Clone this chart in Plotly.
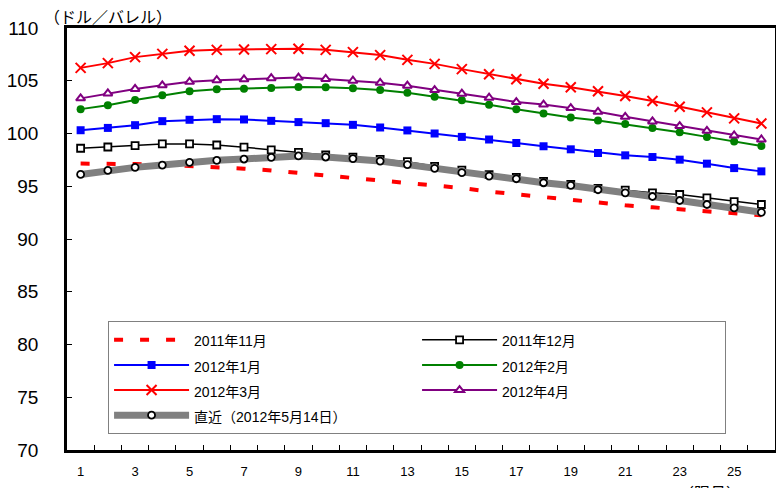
import plotly.graph_objects as go

months = list(range(1, 27))

nov2011 = [97.15, 97.15, 97.1, 97.05, 96.95, 96.82, 96.67, 96.5, 96.27, 96.0, 95.78, 95.59, 95.38,
           95.12, 94.83, 94.5, 94.24, 93.9, 93.63, 93.4, 93.2, 93.0, 92.79, 92.58, 92.4, 92.25]
dec2011 = [98.6, 98.72, 98.86, 99.01, 99.01, 98.91, 98.7, 98.44, 98.22, 97.96, 97.77, 97.55, 97.33,
           96.89, 96.53, 96.1, 95.84, 95.46, 95.17, 94.79, 94.63, 94.38, 94.22, 93.9, 93.55, 93.27]
jan2012 = [100.31, 100.53, 100.79, 101.17, 101.3, 101.36, 101.33, 101.2, 101.08, 100.98, 100.82, 100.57, 100.29,
           100.0, 99.68, 99.43, 99.1, 98.79, 98.5, 98.15, 97.93, 97.77, 97.52, 97.14, 96.72, 96.41]
feb2012 = [102.31, 102.67, 103.17, 103.62, 104.0, 104.19, 104.25, 104.31, 104.41, 104.38, 104.29, 104.12, 103.87,
           103.49, 103.14, 102.72, 102.29, 101.9, 101.52, 101.24, 100.89, 100.53, 100.12, 99.68, 99.24, 98.82]
mar2012 = [106.22, 106.67, 107.24, 107.55, 107.84, 107.93, 107.96, 108.0, 108.03, 107.93, 107.71, 107.43, 106.98,
           106.6, 106.1, 105.62, 105.14, 104.72, 104.38, 104.0, 103.55, 103.08, 102.53, 102.0, 101.43, 100.95]
apr2012 = [103.33, 103.8, 104.22, 104.57, 104.9, 105.05, 105.14, 105.24, 105.3, 105.17, 105.0, 104.8, 104.53,
           104.12, 103.77, 103.39, 102.98, 102.74, 102.41, 102.06, 101.58, 101.14, 100.7, 100.25, 99.81, 99.43]
latest = [96.12, 96.5, 96.79, 97.01, 97.27, 97.46, 97.58, 97.74, 97.87, 97.77, 97.62, 97.39, 97.05,
          96.7, 96.29, 95.96, 95.71, 95.33, 95.08, 94.67, 94.38, 94.03, 93.65, 93.27, 92.95, 92.53]

x_ticks = [1, 3, 5, 7, 9, 11, 13, 15, 17, 19, 21, 23, 25]
x_minor = [m + 0.5 for m in range(1, 26)]
y_ticks = [70, 75, 80, 85, 90, 95, 100, 105, 110]

FONT = "Liberation Sans, Noto Sans CJK JP, sans-serif"


def lg(name):
    return "<span style='font-size:14px'>" + name + "</span>"


fig = go.Figure()

fig.add_trace(go.Scatter(x=months, y=nov2011, name=lg("2011年11月"), mode="lines", legendrank=1,
                         line=dict(color="#FF0000", width=4, dash="9px,17px")))
fig.add_trace(go.Scatter(x=months, y=dec2011, name=lg("2011年12月"), mode="lines+markers", legendrank=2,
                         line=dict(color="#000000", width=1.5),
                         marker=dict(symbol="square", size=7, color="white",
                                     line=dict(color="black", width=1.8))))
fig.add_trace(go.Scatter(x=months, y=latest, name=lg("直近（2012年5月14日）"), mode="lines+markers",
                         legendrank=7,
                         line=dict(color="#808080", width=7),
                         marker=dict(symbol="circle", size=7, color="white",
                                     line=dict(color="black", width=1.8))))
fig.add_trace(go.Scatter(x=months, y=jan2012, name=lg("2012年1月"), mode="lines+markers", legendrank=3,
                         line=dict(color="#0000FF", width=2),
                         marker=dict(symbol="square", size=8, color="#0000FF")))
fig.add_trace(go.Scatter(x=months, y=feb2012, name=lg("2012年2月"), mode="lines+markers", legendrank=4,
                         line=dict(color="#008000", width=2),
                         marker=dict(symbol="circle", size=8, color="#008000")))
fig.add_trace(go.Scatter(x=months, y=mar2012, name=lg("2012年3月"), mode="lines+markers", legendrank=5,
                         line=dict(color="#FF0000", width=2),
                         marker=dict(symbol="x-thin", size=10, color="#FF0000",
                                     line=dict(color="#FF0000", width=2))))
fig.add_trace(go.Scatter(x=months, y=apr2012, name=lg("2012年4月"), mode="lines+markers", legendrank=6,
                         line=dict(color="#800080", width=2),
                         marker=dict(symbol="triangle-up", size=8, color="white",
                                     line=dict(color="#800080", width=2))))

# the page body has an 8px margin, so the figure is 8px smaller than the window
fig.update_layout(
    width=776, height=480,
    margin=dict(l=59, r=9, t=20, b=38, autoexpand=False),
    paper_bgcolor="white", plot_bgcolor="white",
    font=dict(family=FONT, size=14, color="black"),
    showlegend=True,
    legend=dict(
        orientation="h", x=0.058, y=0.305, xanchor="left", yanchor="top",
        entrywidth=218, entrywidthmode="pixels",
        itemwidth=75,
        bgcolor="white", bordercolor="#808080", borderwidth=1,
        font=dict(family=FONT, size=17, color="black"),
        traceorder="normal",
    ),
    xaxis=dict(
        range=[0.5, 26.5], tickmode="array", tickvals=x_ticks,
        ticktext=[str(v) for v in x_ticks], ticks="",
        minor=dict(tickmode="array", tickvals=x_minor, ticks="inside", ticklen=5,
                   tickwidth=1, tickcolor="black", showgrid=False),
        showline=True, linecolor="black", linewidth=2.5, mirror=True,
        showgrid=False, zeroline=False, ticklabelstandoff=8, automargin=False,
        tickfont=dict(size=13),
    ),
    yaxis=dict(
        range=[70, 110], tickmode="array", tickvals=y_ticks,
        ticks="inside", ticklen=5, tickwidth=1, tickcolor="black",
        showline=True, linecolor="black", linewidth=2.5, mirror=True,
        showgrid=False, zeroline=False, ticklabelstandoff=22, automargin=False,
        tickfont=dict(size=19),
    ),
    annotations=[
        dict(text="（ドル／バレル）", xref="paper", yref="paper", x=-0.035, y=1.0,
             xanchor="left", yanchor="bottom", yshift=-2, showarrow=False,
             font=dict(family="Noto Sans CJK JP", size=16)),
        dict(text="（限月）", xref="paper", yref="paper", x=0.86, y=-0.066,
             xanchor="left", yanchor="top", showarrow=False,
             font=dict(family="Noto Sans CJK JP", size=16)),
    ],
)

fig.write_html("out.html")
